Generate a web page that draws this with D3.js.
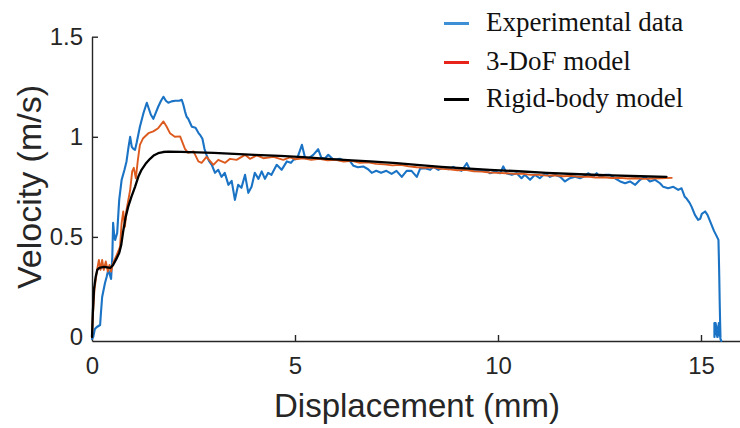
<!DOCTYPE html>
<html>
<head>
<meta charset="utf-8">
<script src="https://cdn.jsdelivr.net/npm/d3@7"></script>
<style>
  html, body { margin: 0; padding: 0; background: #ffffff; }
  svg { display: block; }
</style>
</head>
<body>
<svg id="chart" width="740" height="428"></svg>
<script>
// Measured velocity vs. displacement: [displacement (mm), velocity (m/s)]
const experimentalData = [
  [0.0, -0.01], [0.03, 0.0], [0.07, 0.04], [0.12, 0.05], [0.2, 0.06], [0.22, 0.12], [0.25, 0.2],
  [0.32, 0.27], [0.36, 0.30], [0.4, 0.335], [0.44, 0.31], [0.47, 0.29], [0.50, 0.40], [0.52, 0.57],
  [0.55, 0.50], [0.57, 0.485], [0.62, 0.52], [0.67, 0.685], [0.73, 0.785], [0.8, 0.835], [0.85, 0.877],
  [0.9, 0.95], [0.94, 1.0], [0.98, 0.95], [1.02, 0.94], [1.06, 0.935], [1.1, 0.97], [1.18, 1.05],
  [1.27, 1.12], [1.35, 1.17], [1.40, 1.14], [1.45, 1.11], [1.51, 1.09], [1.57, 1.12], [1.63, 1.15],
  [1.7, 1.18], [1.76, 1.20], [1.82, 1.18], [1.88, 1.17], [1.96, 1.177], [2.05, 1.18], [2.15, 1.18],
  [2.21, 1.185], [2.25, 1.16], [2.29, 1.127], [2.33, 1.10], [2.37, 1.09], [2.46, 1.05], [2.55, 1.045],
  [2.62, 1.02], [2.66, 1.01], [2.72, 0.99], [2.77, 0.94], [2.82, 0.91], [2.88, 0.88], [2.95, 0.86],
  [3.03, 0.82], [3.11, 0.835], [3.19, 0.80], [3.27, 0.82], [3.36, 0.76], [3.44, 0.78], [3.52, 0.685],
  [3.6, 0.76], [3.68, 0.745], [3.77, 0.81], [3.85, 0.72], [3.93, 0.75], [4.01, 0.82], [4.1, 0.79],
  [4.18, 0.827], [4.26, 0.79], [4.34, 0.82], [4.42, 0.81], [4.55, 0.86], [4.67, 0.835], [4.8, 0.877],
  [4.9, 0.87], [4.96, 0.885], [5.05, 0.89], [5.17, 0.96], [5.25, 0.893], [5.35, 0.895], [5.45, 0.91],
  [5.57, 0.938], [5.65, 0.895], [5.73, 0.89], [5.82, 0.91], [5.95, 0.885], [6.1, 0.89], [6.22, 0.88],
  [6.35, 0.88], [6.44, 0.855], [6.55, 0.848], [6.68, 0.852], [6.8, 0.838], [6.89, 0.82], [7.0, 0.83],
  [7.12, 0.82], [7.25, 0.83], [7.38, 0.815], [7.5, 0.83], [7.63, 0.80], [7.75, 0.83], [7.87, 0.83],
  [8.0, 0.80], [8.08, 0.84], [8.2, 0.843], [8.33, 0.835], [8.41, 0.85], [8.53, 0.835], [8.66, 0.848],
  [8.78, 0.838], [8.9, 0.85], [9.02, 0.835], [9.1, 0.83], [9.23, 0.868], [9.31, 0.835], [9.43, 0.83],
  [9.55, 0.835], [9.71, 0.83], [9.8, 0.818], [9.93, 0.827], [10.05, 0.818], [10.13, 0.852], [10.21, 0.818],
  [10.34, 0.81], [10.46, 0.818], [10.58, 0.793], [10.66, 0.81], [10.79, 0.785], [10.91, 0.81], [11.03, 0.793],
  [11.16, 0.818], [11.28, 0.80], [11.40, 0.81], [11.53, 0.80], [11.65, 0.777], [11.77, 0.793], [11.90, 0.80],
  [12.02, 0.793], [12.10, 0.80], [12.22, 0.818], [12.35, 0.80], [12.43, 0.818], [12.51, 0.80], [12.64, 0.81],
  [12.76, 0.81], [12.88, 0.793], [13.01, 0.777], [13.13, 0.768], [13.25, 0.777], [13.38, 0.76], [13.5, 0.785],
  [13.62, 0.80], [13.74, 0.777], [13.87, 0.785], [13.99, 0.768], [14.07, 0.75], [14.19, 0.743], [14.32, 0.75],
  [14.44, 0.735], [14.52, 0.743], [14.6, 0.70], [14.65, 0.69], [14.72, 0.67], [14.77, 0.65], [14.85, 0.61],
  [14.93, 0.585], [14.98, 0.59], [15.02, 0.615], [15.1, 0.627], [15.16, 0.61], [15.21, 0.585], [15.26, 0.56],
  [15.32, 0.53], [15.37, 0.51], [15.43, 0.485], [15.44, 0.40], [15.45, 0.30], [15.46, 0.18], [15.47, 0.08],
  [15.48, 0.0], [15.44, 0.07], [15.40, 0.0], [15.36, 0.07], [15.33, 0.07], [15.33, 0.0], [15.37, 0.06],
  [15.41, 0.0], [15.44, 0.05], [15.48, -0.01], [15.50, -0.02]
];

// 3-DoF model prediction
const dofModelData = [
  [0.0, 0.0], [0.02, 0.10], [0.06, 0.235], [0.12, 0.33], [0.17, 0.385], [0.21, 0.335], [0.25, 0.385],
  [0.29, 0.335], [0.34, 0.377], [0.39, 0.327], [0.43, 0.36], [0.47, 0.327], [0.52, 0.37], [0.61, 0.41],
  [0.69, 0.45], [0.73, 0.57], [0.77, 0.627], [0.81, 0.55], [0.85, 0.635], [0.94, 0.735], [0.99, 0.827],
  [1.03, 0.845], [1.08, 0.793], [1.13, 0.885], [1.18, 0.96], [1.26, 0.993], [1.39, 1.018], [1.51, 1.027],
  [1.63, 1.043], [1.76, 1.077], [1.84, 1.05], [1.92, 1.018], [2.04, 1.0], [2.17, 1.002], [2.29, 0.94],
  [2.37, 0.92], [2.5, 0.927], [2.62, 0.877], [2.70, 0.87], [2.82, 0.90], [2.99, 0.86], [3.11, 0.885],
  [3.28, 0.87], [3.4, 0.89], [3.56, 0.885], [3.77, 0.91], [3.89, 0.89], [4.06, 0.907], [4.22, 0.893],
  [4.47, 0.90], [4.71, 0.885], [4.88, 0.897], [5.0, 0.888], [5.2, 0.892], [5.4, 0.885], [5.6, 0.89],
  [5.8, 0.882], [6.0, 0.885], [6.2, 0.876], [6.4, 0.88], [6.6, 0.87], [6.8, 0.872], [7.0, 0.865],
  [7.2, 0.862], [7.4, 0.857], [7.6, 0.86], [7.8, 0.852], [8.0, 0.848], [8.2, 0.845], [8.4, 0.848],
  [8.6, 0.84], [8.8, 0.838], [9.0, 0.833], [9.2, 0.835], [9.4, 0.828], [9.6, 0.826], [9.8, 0.822],
  [10.0, 0.82], [10.2, 0.818], [10.4, 0.815], [10.6, 0.816], [10.8, 0.81], [11.0, 0.81], [11.2, 0.806],
  [11.4, 0.808], [11.6, 0.803], [11.8, 0.805], [12.0, 0.80], [12.2, 0.801], [12.4, 0.797], [12.6, 0.798],
  [12.8, 0.794], [13.0, 0.795], [13.2, 0.792], [13.4, 0.793], [13.6, 0.79], [13.8, 0.792], [14.0, 0.793],
  [14.28, 0.795]
];

// Rigid-body model prediction
const rigidModelData = [
  [0.0, 0.0], [0.02, 0.12], [0.05, 0.24], [0.09, 0.30], [0.13, 0.335], [0.18, 0.345], [0.3, 0.35],
  [0.45, 0.345], [0.52, 0.36], [0.6, 0.39], [0.67, 0.42], [0.72, 0.46], [0.77, 0.53], [0.83, 0.6],
  [0.89, 0.65], [0.97, 0.70], [1.06, 0.75], [1.14, 0.80], [1.22, 0.835], [1.32, 0.865], [1.43, 0.89],
  [1.53, 0.908], [1.63, 0.918], [1.75, 0.924], [1.88, 0.926], [2.2, 0.925], [2.6, 0.922], [3.0, 0.92],
  [3.5, 0.915], [4.0, 0.91], [4.63, 0.905], [5.2, 0.898], [5.8, 0.89], [6.4, 0.882], [6.85, 0.877],
  [7.5, 0.868], [8.0, 0.86], [8.6, 0.85], [9.2, 0.842], [9.8, 0.835], [10.5, 0.828], [11.2, 0.82],
  [12.0, 0.813], [12.8, 0.807], [13.5, 0.803], [14.15, 0.80]
];

const xTicks = [0, 5, 10, 15];
const yTicks = [0, 0.5, 1, 1.5];
const xLabel = "Displacement (mm)";
const yLabel = "Velocity (m/s)";
const legendLabels = ["Experimental data", "3-DoF model", "Rigid-body model"];
const legendColors = ["#3d8fd6", "#e8231c", "#000000"];
const lineColors = ["#1a73c4", "#dd5a1e", "#000000"];

const svg = d3.select("#chart");
const axisColor = "#262626";

const x = d3.scaleLinear().domain([0, 16]).range([92, 741.6]);
const y = d3.scaleLinear().domain([-0.02, 1.5]).range([341, 36.7]);

// Axes with inward ticks
const xAxis = d3.axisBottom(x).tickValues(xTicks).tickFormat(d3.format("d"))
  .tickSizeInner(-6).tickSizeOuter(0).tickPadding(16);
const yAxis = d3.axisLeft(y).tickValues(yTicks).tickFormat(d => d3.format("")(d))
  .tickSizeInner(-6).tickSizeOuter(0).tickPadding(9);

const gx = svg.append("g").attr("transform", `translate(0,${y.range()[0]})`).call(xAxis);
const gy = svg.append("g").attr("transform", `translate(${x.range()[0]},0)`).call(yAxis);

[gx, gy].forEach(g => {
  g.select(".domain").attr("stroke", axisColor).attr("stroke-width", 1.4);
  g.selectAll(".tick line").attr("stroke", axisColor).attr("stroke-width", 1.4);
  g.selectAll(".tick text")
    .attr("fill", axisColor)
    .style("font-family", "'Liberation Sans', Arial, sans-serif")
    .style("font-size", "24px");
});
// the 0 ticks sit on the other axis line
gx.selectAll(".tick").filter(d => d === 0).select("line").remove();
gy.selectAll(".tick").filter(d => d === 0).select("line").remove();

// Axis titles
svg.append("text")
  .attr("x", 417).attr("y", 417)
  .attr("text-anchor", "middle")
  .attr("fill", axisColor)
  .style("font-family", "'Liberation Sans', Arial, sans-serif")
  .style("font-size", "33px")
  .text(xLabel);

svg.append("text")
  .attr("transform", "translate(41,187) rotate(-90)")
  .attr("text-anchor", "middle")
  .attr("fill", axisColor)
  .style("font-family", "'Liberation Sans', Arial, sans-serif")
  .style("font-size", "34px")
  .text(yLabel);

// Curves
const line = d3.line().x(d => x(d[0])).y(d => y(d[1]));
const series = [
  { data: experimentalData, color: lineColors[0], width: 2.1 },
  { data: dofModelData, color: lineColors[1], width: 1.9 },
  { data: rigidModelData, color: lineColors[2], width: 2.3 }
];
svg.append("g").selectAll("path")
  .data(series)
  .join("path")
  .attr("d", d => line(d.data))
  .attr("fill", "none")
  .attr("stroke", d => d.color)
  .attr("stroke-width", d => d.width)
  .attr("stroke-linejoin", "round")
  .attr("stroke-linecap", "round");

// Legend
const legend = svg.append("g");
const legendRows = legendLabels.map((label, i) => ({ label, color: legendColors[i], i }));
const rowY = [23.5, 62.5, 99.5];
legend.selectAll("line")
  .data(legendRows)
  .join("line")
  .attr("x1", 444).attr("x2", 469)
  .attr("y1", d => rowY[d.i]).attr("y2", d => rowY[d.i])
  .attr("stroke", d => d.color)
  .attr("stroke-width", 3);
legend.selectAll("text")
  .data(legendRows)
  .join("text")
  .attr("x", 486)
  .attr("y", d => rowY[d.i] + 7.5)
  .attr("fill", "#111111")
  .style("font-family", "'Liberation Serif', 'Times New Roman', serif")
  .style("font-size", "27px")
  .text(d => d.label);
</script>
</body>
</html>
